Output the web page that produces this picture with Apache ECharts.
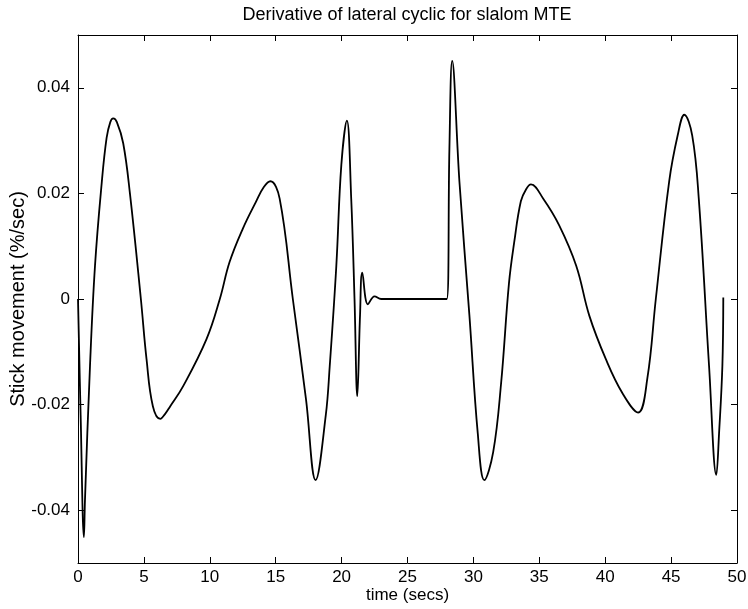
<!DOCTYPE html>
<html>
<head>
<meta charset="utf-8">
<title>Derivative of lateral cyclic for slalom MTE</title>
<script src="https://cdn.jsdelivr.net/npm/echarts@6/dist/echarts.min.js"></script>
<style>
  html, body { margin: 0; padding: 0; background: #fff; }
  #chart { width: 748px; height: 609px; }
</style>
</head>
<body>
<div id="chart"></div>
<script>
// time samples (secs)
const timeSecs = [
  0, 0.2, 0.45, 0.53, 0.91, 1.29, 1.8, 2.17, 2.45, 2.67, 2.95, 3.43, 3.94, 4.77, 5.2, 5.68, 6.25,
  6.6, 7.0, 7.98, 9.75, 10.76, 11.5, 12.5, 13.5, 14.1, 14.6, 15.3, 16.3, 17.3, 18.03, 18.8, 19.1,
  19.6, 19.98, 20.4, 20.73, 20.98, 21.19, 21.4, 21.57, 22.0, 22.5, 23.0, 27.98, 28.18,
  28.39, 28.94, 29.7, 30.33, 30.83, 31.5, 32.1, 32.7, 33.1, 33.6, 34.0, 34.37, 35.3, 36.5,
  37.8, 38.8, 40.05, 41.3, 42.5, 43.2, 43.84, 44.85, 45.5, 46.0, 46.6, 47.1, 47.88,
  48.43, 48.64, 48.89, 48.96
]
// stick movement rate (%/sec)
const stickRate = [
  0, -0.022, -0.0451, -0.038, -0.0127, 0.0063, 0.022, 0.0305, 0.0335, 0.0342, 0.0335, 0.0295, 0.02, 0, -0.0114, -0.0203, -0.0227,
  -0.0218, -0.0203, -0.0165, -0.0076, 0, 0.007, 0.0133, 0.0184, 0.0212, 0.0223, 0.019, 0.0, -0.019, -0.0343, -0.022, -0.0127,
  0.0063, 0.0254, 0.0338, 0.019, 0, -0.0184, -0.003, 0.005, -0.001, 0.0005, 0, 0, 0.0285,
  0.0451, 0.0222, -0.0032, -0.0254, -0.0343, -0.029, -0.016, 0.003, 0.0108, 0.0185, 0.0208, 0.0217, 0.019, 0.014,
  0.0063, -0.0032, -0.0114, -0.0178, -0.0215, -0.015, 0, 0.0222, 0.031, 0.0349, 0.031, 0.019, -0.0127,
  -0.0333, -0.0254, -0.0127, 0.0003
]
const xTicks = [0, 5, 10, 15, 20, 25, 30, 35, 40, 45, 50]
const yTicks = [-0.04, -0.02, 0, 0.02, 0.04]

const font = '"Liberation Sans", Arial, Helvetica, sans-serif'
const chart = echarts.init(document.getElementById('chart'))

const xBase = {
  type: 'value',
  min: 0,
  max: 50,
  interval: 5,
  splitLine: { show: false },
  axisLine: { onZero: false, lineStyle: { color: '#000', width: 1 } },
  axisTick: { inside: true, length: 6, lineStyle: { color: '#000' } }
}
const yBase = {
  type: 'value',
  min: -0.05,
  max: 0.05,
  splitLine: { show: false },
  axisLine: { onZero: false, lineStyle: { color: '#000', width: 1 } },
  axisTick: { inside: true, length: 6, customValues: yTicks, lineStyle: { color: '#000' } }
}

chart.setOption({
  backgroundColor: '#fff',
  animation: false,
  title: {
    text: 'Derivative of lateral cyclic for slalom MTE',
    left: 402,
    top: 1,
    textAlign: 'center',
    textStyle: { fontFamily: font, fontSize: 18, fontWeight: 'normal', color: '#000' }
  },
  grid: { left: 78, right: 11, top: 35, bottom: 46, outerBoundsMode: 'none' },
  xAxis: [
    Object.assign({}, xBase, {
      position: 'bottom',
      name: 'time (secs)',
      nameLocation: 'middle',
      nameGap: 24,
      nameMoveOverlap: false,
      nameTextStyle: { fontFamily: font, fontSize: 17, color: '#000' },
      axisLabel: {
        margin: 6,
        fontFamily: font,
        fontSize: 17,
        color: '#000',
        customValues: xTicks
      }
    }),
    Object.assign({}, xBase, { position: 'top', axisLabel: { show: false } })
  ],
  yAxis: [
    Object.assign({}, yBase, {
      position: 'left',
      name: 'Stick movement (%/sec)',
      nameLocation: 'middle',
      nameGap: 50,
      nameMoveOverlap: false,
      nameTextStyle: { fontFamily: font, fontSize: 20, color: '#000' },
      axisLabel: {
        margin: 8,
        fontFamily: font,
        fontSize: 17,
        color: '#000',
        customValues: yTicks,
        formatter: v => (Math.abs(v) < 1e-9 ? '0' : String(+v.toFixed(2)))
      }
    }),
    Object.assign({}, yBase, { position: 'right', axisLabel: { show: false } })
  ],
  series: [{
    type: 'line',
    xAxisIndex: 0,
    yAxisIndex: 0,
    data: timeSecs.map((t, i) => [t, stickRate[i]]),
    showSymbol: false,
    smooth: 0.4,
    lineStyle: { color: '#000', width: 1.8 }
  }]
})
</script>
</body>
</html>
